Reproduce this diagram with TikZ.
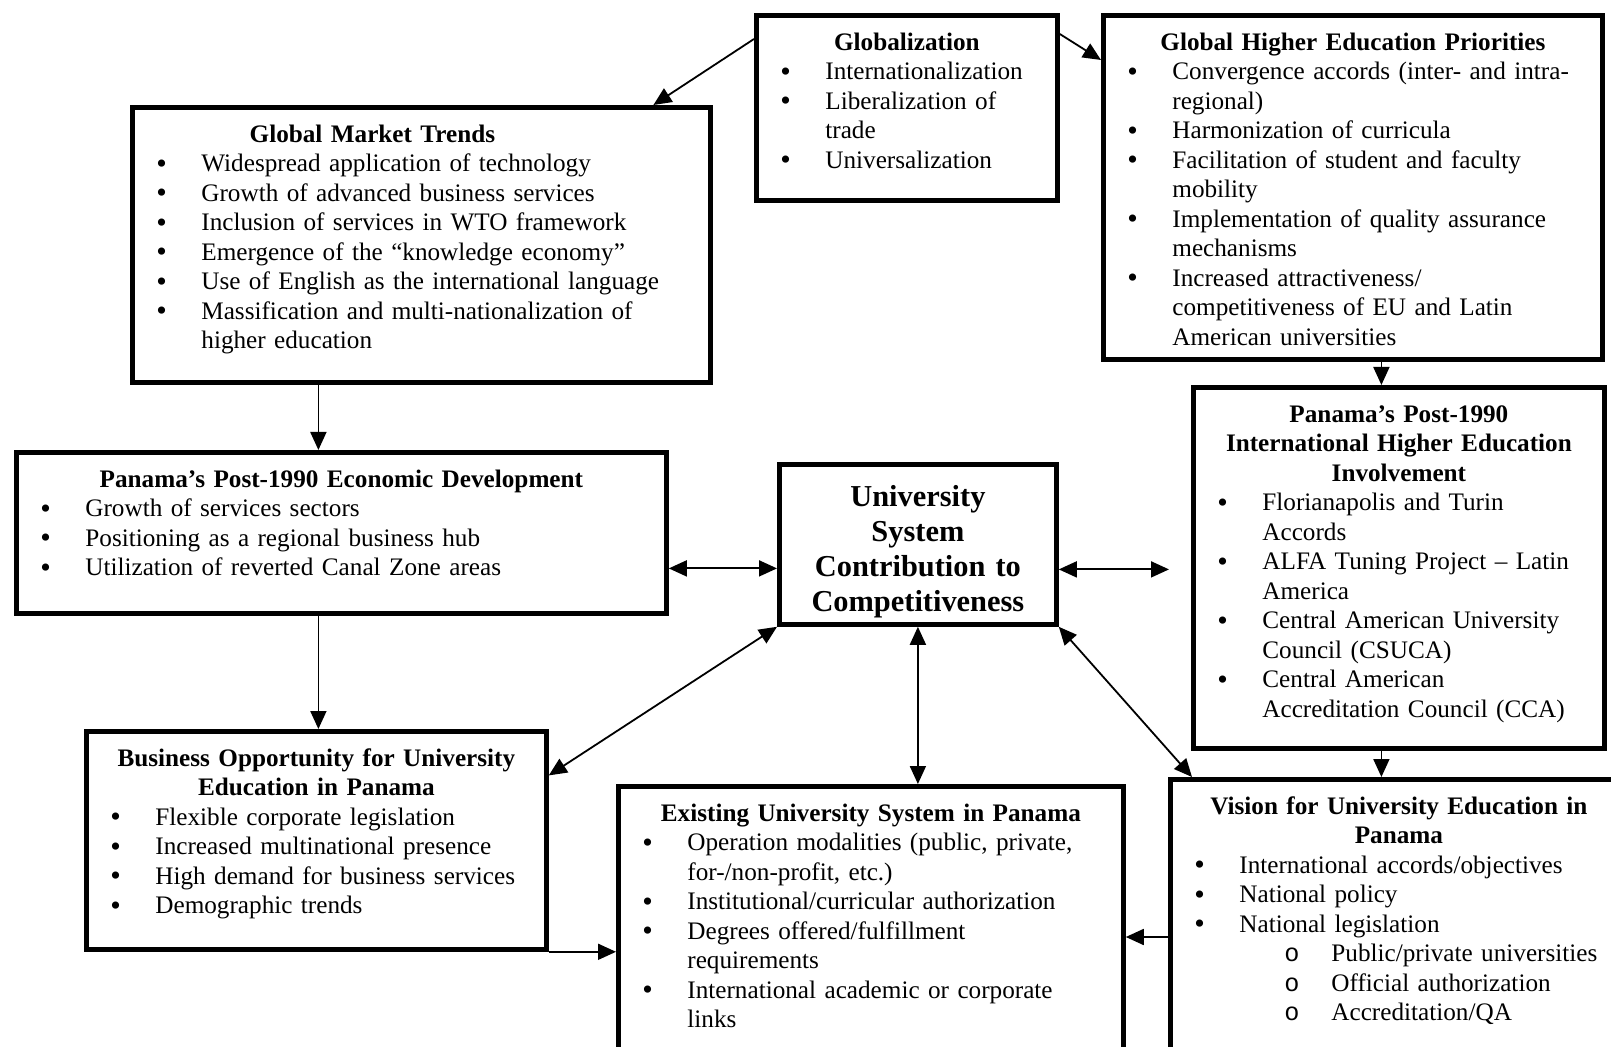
\documentclass[tikz,border=0pt]{standalone}
\usepackage{fontspec}
\setmainfont{Liberation Serif}
\setmonofont{Liberation Mono}
\usetikzlibrary{arrows.meta, positioning, calc}

\newcommand{\boxtitle}[1]{{\centering\bfseries #1\par}}
\newcommand{\dotmark}{\raisebox{-0.6pt}{\fontsize{15}{15}\selectfont\textbullet}}
\newcommand{\itm}[1]{\par\hangindent=24.5pt\hangafter=1\hspace*{2pt}\makebox[22.5pt][l]{\dotmark}#1\par}
\newcommand{\subitm}[1]{\par\hangindent=70.5pt\hangafter=1\hspace*{47pt}\makebox[23.5pt][l]{\texttt{o}}#1\par}

\begin{document}
\begin{tikzpicture}[
    x=0.5pt, y=-0.5pt,
    box/.style={draw, line width=2.4pt, inner xsep=10pt, inner ysep=0pt, anchor=north west,
        align=left, text height=17.5pt, font=\fontsize{12.6}{14.75}\selectfont},
    arrow/.style={-{Triangle[length=9pt,width=8pt]}, line width=0.9pt},
    twoway/.style={{Triangle[length=9pt,width=8pt]}-{Triangle[length=9pt,width=8pt]}, line width=0.9pt}
]
\useasboundingbox (0,0) rectangle (1611,1047);

% Nodes
\node[box, text width=130.5pt, text depth=75pt] (glob) at (754,13) {
    \boxtitle{Globalization}
    \itm{Internationalization}
    \itm{Liberalization of\newline trade}
    \itm{Universalization}
};

\node[box, text width=229.5pt, text depth=154.5pt] (ghep) at (1101,13) {
    \boxtitle{Global Higher Education Priorities}
    \itm{Convergence accords (inter- and intra-\newline regional)}
    \itm{Harmonization of curricula}
    \itm{Facilitation of student and faculty\newline mobility}
    \itm{Implementation of quality assurance\newline mechanisms}
    \itm{Increased attractiveness/\newline competitiveness of EU and Latin\newline American universities}
};

\node[box, text width=269pt, text depth=120pt] (gmt) at (130,105) {
    \boxtitle{\hspace*{-49pt}Global Market Trends}
    \itm{Widespread application of technology}
    \itm{Growth of advanced business services}
    \itm{Inclusion of services in WTO framework}
    \itm{Emergence of the “knowledge economy”}
    \itm{Use of English as the international language}
    \itm{Massification and multi-nationalization of\newline higher education}
};

\node[box, text width=305pt, text depth=63pt] (econ) at (14,450) {
    \boxtitle{Panama’s Post-1990 Economic Development}
    \itm{Growth of services sectors}
    \itm{Positioning as a regional business hub}
    \itm{Utilization of reverted Canal Zone areas}
};

\node[box, text width=118.5pt, text height=21pt, text depth=59pt,
      font=\fontsize{15.2}{17.5}\selectfont] (center) at (777,462) {
    \boxtitle{University\\System\\Contribution to\\Competitiveness}
};

\node[box, text width=185.5pt, text depth=163pt] (intl) at (1191,385) {
    \boxtitle{Panama’s Post-1990\\International Higher Education\\Involvement}
    \itm{Florianapolis and Turin\newline Accords}
    \itm{ALFA Tuning Project – Latin\newline America}
    \itm{Central American University\newline Council (CSUCA)}
    \itm{Central American\newline Accreditation Council (CCA)}
};

\node[box, text width=210pt, text depth=91.5pt] (business) at (84,729) {
    \boxtitle{Business Opportunity for University\\Education in Panama}
    \itm{Flexible corporate legislation}
    \itm{Increased multinational presence}
    \itm{High demand for business services}
    \itm{Demographic trends}
};

\node[box, text width=232.5pt, text depth=130.5pt] (existing) at (616,784) {
    \boxtitle{Existing University System in Panama}
    \itm{Operation modalities (public, private,\newline for-/non-profit, etc.)}
    \itm{Institutional/curricular authorization}
    \itm{Degrees offered/fulfillment\newline requirements}
    \itm{International academic or corporate\newline links}
};

\node[box, text width=208.5pt, text depth=134pt] (vision) at (1168,777) {
    \boxtitle{Vision for University Education in\\Panama}
    \itm{International accords/objectives}
    \itm{National policy}
    \itm{National legislation}
    \subitm{Public/private universities}
    \subitm{Official authorization}
    \subitm{Accreditation/QA}
};

% Arrows
\draw[arrow] ([yshift=-13pt]glob.north west) -- ([xshift=116pt]gmt.north);
\draw[arrow] ([yshift=-10.5pt]glob.north east) -- ([yshift=-23.5pt]ghep.north west);
\draw[arrow] ([xshift=-51.5pt]gmt.south) -- ([xshift=-51.5pt]gmt.south |- econ.north);
\draw[arrow] ([xshift=14.25pt]ghep.south) -- ([xshift=14.25pt]ghep.south |- intl.north);
\draw[twoway] ([yshift=-17.75pt]econ.east) -- ([yshift=-17.75pt]econ.east -| center.west);
\draw[twoway, shorten >=11pt] ([yshift=-12.5pt]center.east) -- ([yshift=-12.5pt]center.east -| intl.west);
\draw[arrow] ([xshift=-11.5pt]econ.south) -- ([xshift=-11.5pt]econ.south |- business.north);
\draw[twoway] (center.south west) -- ([yshift=32.5pt]business.east);
\draw[twoway] (center.south) -- (center.south |- existing.north);
\draw[twoway] (center.south east) -- ([xshift=12pt]vision.north west);
\draw[arrow] ([xshift=-8.75pt]intl.south) -- ([xshift=-8.75pt]intl.south |- vision.north);
\draw[arrow] (business.south east) -- (business.south east -| existing.west);
\draw[arrow] ([yshift=-80pt]vision.north west) -- ([yshift=-80pt]vision.north west -| existing.east);

\end{tikzpicture}
\end{document}
